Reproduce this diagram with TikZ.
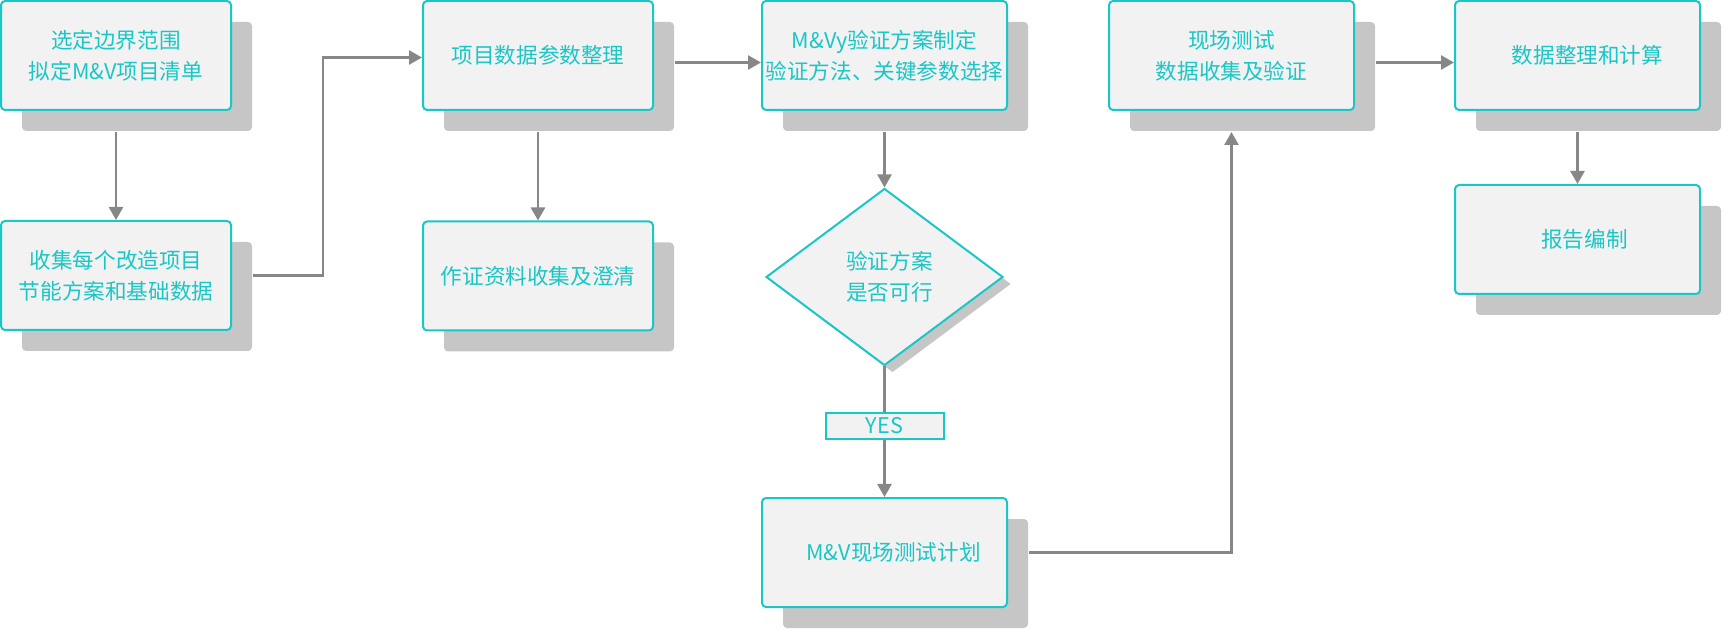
\documentclass[tikz,border=0pt]{standalone}
\usepackage{fontspec}
\setmainfont{Noto Sans CJK SC}
\usepackage{tikz}
\usetikzlibrary{arrows.meta,shapes.geometric,shadows}
\definecolor{mvteal}{HTML}{1BC6C6}
\definecolor{boxfill}{HTML}{F2F2F2}
\definecolor{shade}{HTML}{C6C6C6}
\definecolor{gray}{HTML}{878787}
\tikzset{
  every picture/.style={>={Triangle[length=6.5pt,width=7pt]}},
  boxfont/.style={font=\fontsize{10.8pt}{15.5pt}\selectfont},
  stepbox/.style={boxfont, draw=mvteal, line width=1pt, fill=boxfill, rounded corners=2pt,
    text=mvteal, align=center, inner sep=0pt, minimum width=115pt, minimum height=54.5pt,
    drop shadow={shadow xshift=10.5pt, shadow yshift=-10.5pt, fill=shade, opacity=1}},
  widebox/.style={stepbox, minimum width=122.5pt},
  decision/.style={boxfont, diamond, draw=mvteal, line width=1pt, fill=boxfill, text=mvteal,
    align=center, inner sep=0pt, minimum width=118.5pt, minimum height=88.5pt,
    drop shadow={shadow xshift=4pt, shadow yshift=-3.5pt, fill=shade, opacity=1}},
  answer/.style={boxfont, draw=mvteal, line width=1pt, fill=boxfill, text=mvteal,
    inner sep=0pt, minimum width=59pt, minimum height=13pt},
  link/.style={draw=gray, line width=1.3pt},
}

\begin{document}
\begin{tikzpicture}[x=0.5pt,y=-0.5pt]
\useasboundingbox (0,0) rectangle (1724,630);
% first column
\node[stepbox] (boundary) at (116,55.5) {选定边界范围\\拟定M\&V项目清单};
\node[stepbox] (collect) at (116,275.5) {收集每个改造项目\\节能方案和基础数据};
% second column
\node[stepbox] (sorting) at (538,55.5) {项目数据参数整理};
\node[stepbox] (evidence) at (538,276) {作证资料收集及澄清};
% third column
\node[widebox] (scheme) at (884.5,55.5) {M\&Vy验证方案制定\\验证方法、关键参数选择};
\node[decision] (feasible) at (884.5,277) {\hspace*{5pt}验证方案\\\hspace*{5pt}是否可行};
\node[answer] (yes) at (884.5,426) {YES};
\node[widebox] (testplan) at (884.5,552.5) {\hspace*{9pt}M\&V现场测试计划};
% fourth and fifth column
\node[widebox] (fieldtest) at (1231.5,55.5) {现场测试\\数据收集及验证};
\node[widebox] (calc) at (1577.5,55.5) {\hspace*{10pt}数据整理和计算};
\node[widebox] (report) at (1577.5,239.5) {\hspace*{7pt}报告编制};

\draw[link,->] ([yshift=-10.5pt]boundary.south) -- (collect.north);
\draw[link,->] ([xshift=10.5pt]collect.east) -- ++(35pt,0) |- ([yshift=-1pt]sorting.west);
\draw[link,->] ([yshift=-10.5pt]sorting.south) -- (evidence.north);
\draw[link,->] ([xshift=10.5pt,yshift=-3.5pt]sorting.east) -- ([yshift=-3.5pt]scheme.west);
\draw[link,->] ([yshift=-10.5pt]scheme.south) -- (feasible.north);
\draw[link] (feasible.south) -- (yes.north);
\draw[link,->] (yes.south) -- (testplan.north);
\draw[link,->] ([xshift=10.5pt]testplan.east) -| ([yshift=-10.5pt]fieldtest.south);
\draw[link,->] ([xshift=10.5pt,yshift=-3.5pt]fieldtest.east) -- ([yshift=-3.5pt]calc.west);
\draw[link,->] ([yshift=-10.5pt]calc.south) -- (report.north);
\end{tikzpicture}
\end{document}
